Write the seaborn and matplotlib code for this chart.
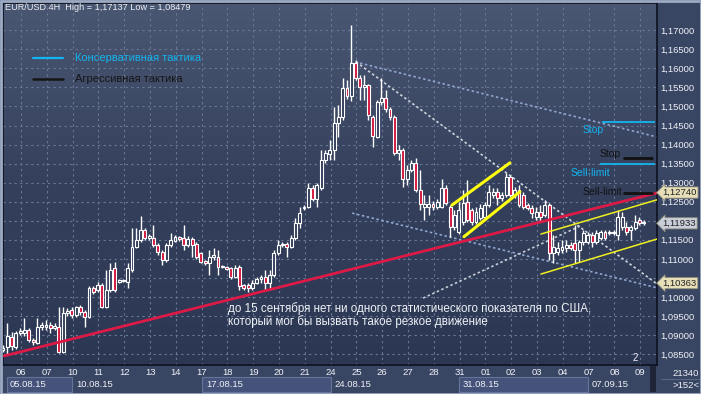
import matplotlib
matplotlib.use("Agg")
import numpy as np
import pandas as pd
import matplotlib.pyplot as plt
import seaborn as sns
from matplotlib.patches import Rectangle
from matplotlib.colors import LinearSegmentedColormap
import matplotlib.transforms as mtrans

# ---------------- data (EUR/USD 4H candles) ----------------
opens = [1.0861,1.0869,1.0895,1.0869,1.0905,1.0905,1.0913,1.0887,1.0879,1.0921,
         1.0921,1.0926,1.0918,1.0921,1.0856,1.0958,1.0966,1.0953,1.0974,1.0960,
         1.0947,1.1024,1.1018,1.1032,1.0974,1.1018,1.1076,1.1040,1.1042,1.1040,
         1.1071,1.1131,1.1150,1.1176,1.1155,1.1155,1.1136,1.1118,1.1097,1.1136,
         1.1147,1.1157,1.1155,1.1136,1.1152,1.1139,1.1115,1.1094,1.1089,1.1105,
         1.1105,1.1079,1.1079,1.1076,1.1053,1.1079,1.1032,1.1032,1.1024,1.1037,
         1.1048,1.1053,1.1037,1.1058,1.1115,1.1136,1.1139,1.1131,1.1155,1.1194,
         1.1234,1.1236,1.1286,1.1257,1.1286,1.1360,1.1375,1.1386,1.1457,1.1472,
         1.1548,1.1527,1.1614,1.1575,1.1551,1.1556,1.1472,1.1420,1.1512,1.1522,
         1.1493,1.1472,1.1378,1.1386,1.1310,1.1333,1.1352,1.1281,1.1236,1.1236,
         1.1244,1.1236,1.1236,1.1286,1.1236,1.1184,1.1171,1.1197,1.1249,1.1228,
         1.1197,1.1207,1.1210,1.1241,1.1268,1.1276,1.1260,1.1268,1.1315,1.1268,
         1.1281,1.1268,1.1241,1.1234,1.1210,1.1223,1.1215,1.1241,1.1115,1.1118,
         1.1123,1.1129,1.1136,1.1142,1.1123,1.1144,1.1144,1.1163,1.1144,1.1155,
         1.1171,1.1168,1.1171,1.1163,1.1184,1.1184,1.1176,1.1181,1.1202,1.1197]
highs = [1.0874,1.0932,1.0908,1.0910,1.0918,1.0945,1.0918,1.0892,1.0945,1.0934,
         1.0940,1.0934,1.0932,1.0974,1.0974,1.0971,1.0974,1.0976,1.0979,1.0966,
         1.1029,1.1029,1.1040,1.1037,1.1071,1.1089,1.1092,1.1048,1.1048,1.1089,
         1.1181,1.1181,1.1212,1.1181,1.1165,1.1189,1.1141,1.1123,1.1141,1.1168,
         1.1163,1.1160,1.1189,1.1160,1.1157,1.1144,1.1118,1.1097,1.1123,1.1129,
         1.1123,1.1084,1.1081,1.1079,1.1084,1.1084,1.1034,1.1037,1.1045,1.1053,
         1.1058,1.1071,1.1071,1.1123,1.1150,1.1144,1.1144,1.1163,1.1207,1.1236,
         1.1241,1.1299,1.1294,1.1299,1.1386,1.1386,1.1412,1.1499,1.1504,1.1575,
         1.1570,1.1714,1.1622,1.1583,1.1583,1.1560,1.1478,1.1517,1.1575,1.1543,
         1.1499,1.1478,1.1399,1.1391,1.1346,1.1360,1.1365,1.1333,1.1268,1.1268,
         1.1252,1.1257,1.1310,1.1294,1.1241,1.1228,1.1249,1.1281,1.1307,1.1234,
         1.1236,1.1244,1.1249,1.1294,1.1286,1.1286,1.1276,1.1325,1.1320,1.1289,
         1.1294,1.1276,1.1247,1.1241,1.1236,1.1241,1.1255,1.1247,1.1163,1.1144,
         1.1150,1.1150,1.1144,1.1189,1.1150,1.1176,1.1171,1.1171,1.1176,1.1176,
         1.1176,1.1176,1.1176,1.1228,1.1223,1.1197,1.1189,1.1215,1.1210,1.1202]
lows =  [1.0856,1.0848,1.0861,1.0864,1.0900,1.0898,1.0882,1.0874,1.0877,1.0913,
         1.0913,1.0905,1.0913,1.0853,1.0853,1.0950,1.0945,1.0947,1.0953,1.0921,
         1.0945,1.1008,1.1013,1.0971,1.0971,1.1013,1.1013,1.1037,1.1040,1.1024,
         1.1066,1.1129,1.1144,1.1150,1.1150,1.1131,1.1110,1.1084,1.1092,1.1131,
         1.1144,1.1147,1.1123,1.1131,1.1105,1.1100,1.1089,1.1084,1.1058,1.1097,
         1.1058,1.1076,1.1071,1.1048,1.1050,1.1018,1.1018,1.1013,1.1018,1.1034,
         1.1037,1.1018,1.1018,1.1053,1.1110,1.1131,1.1105,1.1129,1.1150,1.1181,
         1.1228,1.1234,1.1252,1.1236,1.1281,1.1352,1.1360,1.1360,1.1420,1.1465,
         1.1520,1.1514,1.1570,1.1517,1.1517,1.1465,1.1394,1.1418,1.1504,1.1486,
         1.1465,1.1373,1.1360,1.1289,1.1294,1.1328,1.1276,1.1228,1.1202,1.1215,
         1.1228,1.1231,1.1234,1.1241,1.1157,1.1176,1.1165,1.1189,1.1197,1.1189,
         1.1192,1.1202,1.1205,1.1236,1.1260,1.1241,1.1252,1.1263,1.1263,1.1260,
         1.1236,1.1231,1.1228,1.1207,1.1202,1.1197,1.1210,1.1097,1.1089,1.1110,
         1.1115,1.1118,1.1123,1.1089,1.1092,1.1136,1.1139,1.1131,1.1139,1.1150,
         1.1150,1.1163,1.1163,1.1150,1.1176,1.1163,1.1150,1.1176,1.1189,1.1189]
closes = [1.0866,1.0898,1.0872,1.0905,1.0910,1.0913,1.0887,1.0882,1.0921,1.0926,
          1.0926,1.0918,1.0923,1.0856,1.0958,1.0963,1.0953,1.0974,1.0960,1.0947,
          1.1024,1.1013,1.1032,1.0974,1.1018,1.1071,1.1018,1.1045,1.1045,1.1076,
          1.1131,1.1150,1.1176,1.1155,1.1160,1.1136,1.1118,1.1097,1.1136,1.1150,
          1.1157,1.1152,1.1136,1.1152,1.1136,1.1105,1.1092,1.1089,1.1105,1.1110,
          1.1079,1.1081,1.1074,1.1053,1.1076,1.1029,1.1024,1.1024,1.1037,1.1048,
          1.1053,1.1037,1.1058,1.1115,1.1136,1.1139,1.1131,1.1155,1.1194,1.1220,
          1.1236,1.1286,1.1257,1.1294,1.1360,1.1378,1.1386,1.1457,1.1472,1.1548,
          1.1527,1.1614,1.1575,1.1551,1.1556,1.1478,1.1423,1.1512,1.1522,1.1493,
          1.1472,1.1378,1.1386,1.1310,1.1333,1.1352,1.1281,1.1244,1.1244,1.1244,
          1.1236,1.1249,1.1286,1.1247,1.1184,1.1215,1.1228,1.1247,1.1202,1.1197,
          1.1223,1.1234,1.1241,1.1276,1.1276,1.1260,1.1268,1.1315,1.1268,1.1281,
          1.1241,1.1236,1.1234,1.1220,1.1223,1.1210,1.1241,1.1115,1.1131,1.1129,
          1.1131,1.1136,1.1129,1.1123,1.1144,1.1168,1.1163,1.1144,1.1168,1.1171,
          1.1155,1.1171,1.1168,1.1210,1.1210,1.1171,1.1184,1.1197,1.1194,1.1193]

day_labels = ['06','07','10','11','12','13','14','17','18','19','20','21','24',
              '25','26','27','28','31','01','02','03','04','07','08','09']
week_labels = ['05.08.15','10.08.15','17.08.15','24.08.15','31.08.15','07.09.15']
price_ticks = [1.085,1.090,1.095,1.100,1.105,1.110,1.115,1.120,1.125,1.130,
               1.135,1.140,1.145,1.150,1.155,1.160,1.165,1.170]
price_tags = [1.12740, 1.11933, 1.10363]
header = "EUR/USD 4H  High = 1,17137 Low = 1,08479"
legend_texts = ["Консервативная тактика", "Агрессивная тактика"]
note_lines = ["до 15 сентября нет ни одного статистического показателя по США,",
              "который мог бы вызвать такое резкое движение"]

# ---------------- style ----------------
sns.set_theme(style="dark")
plt.rcParams['font.family'] = ['Liberation Sans', 'DejaVu Sans']

BG_TOP = '#4a5772'
BG_BOT = '#2c3753'
GRID = '#6a7896'
TXT = '#eef1f6'
UP_FACE = '#313d5a'
DOWN_FACE = '#d5163e'
BLUE = '#14b4f0'

W, H = 701, 394
fig = plt.figure(figsize=(W/100, H/100), dpi=100)
fig.patch.set_facecolor('#394663')

ax = fig.add_axes([3/W, 29/H, 654/W, 362/H])
ax.set_facecolor(BG_BOT)

grad = np.linspace(0, 1, 256).reshape(-1, 1)
cmap = LinearSegmentedColormap.from_list('bg', [BG_BOT, '#34405c', BG_TOP])
ax.imshow(grad, extent=[0, 1, 0, 1], transform=ax.transAxes, cmap=cmap,
          aspect='auto', origin='lower', zorder=0)

df = pd.DataFrame({'o': opens, 'h': highs, 'l': lows, 'c': closes})
df['i'] = np.arange(len(df))
df['up'] = df['c'] >= df['o']

ax.set_xlim(0, 152.1)
ax.set_ylim(1.08213, 1.17716)

day_pos = [4.2 + 6*d for d in range(len(day_labels))]
for p in price_ticks:
    ax.axhline(p, color=GRID, lw=0.8, ls=(0, (2, 3)), zorder=1)
for x in day_pos:
    ax.axvline(x, color=GRID, lw=0.8, ls=(0, (2, 3)), zorder=1)

# candles
ax.vlines(df['i'], df['l'], df['h'], color='white', lw=1.0, zorder=3)
body_h = (df['c'] - df['o']).abs().clip(lower=0.00009)
body_b = df[['o', 'c']].min(axis=1)
ax.bar(df['i'], body_h, bottom=body_b, width=0.68,
       color=np.where(df['up'], UP_FACE, DOWN_FACE),
       edgecolor='white', linewidth=0.8, zorder=4)

# trend lines
sns.lineplot(x=[0.23, 152.1], y=[1.0845, 1.1273], ax=ax, color='#dc1a46',
             lw=2.0, zorder=5)
ax.plot([81.9, 152.1], [1.1617, 1.1420], color='#8fa6cf', lw=1.2,
        ls=(0, (1.5, 1.5)), zorder=2)
ax.plot([82.1, 152.1], [1.1617, 1.1034], color='#d0d4de', lw=1.2,
        ls=(0, (1.5, 1.5)), zorder=2)
ax.plot([81.2, 152.1], [1.1220, 1.1024], color='#8fa6cf', lw=1.2,
        ls=(0, (1.5, 1.5)), zorder=2)
ax.plot([97.7, 134.2], [1.0997, 1.1186], color='#c8ccd8', lw=1.2,
        ls=(0, (1.5, 1.5)), zorder=2)
ax.plot([104.4, 117.9], [1.1241, 1.1352], color='#ffff10', lw=2.2, zorder=6)
ax.plot([107.2, 120.2], [1.1158, 1.1276], color='#ffff10', lw=2.2, zorder=6)
ax.plot([125.1, 152.1], [1.1165, 1.1255], color='#f0f020', lw=1.1, zorder=6)
ax.plot([125.1, 152.1], [1.1060, 1.1152], color='#f0f020', lw=1.1, zorder=6)

# order levels
ax.hlines(1.1459, 139.3, 151.6, color=BLUE, lw=1.3, zorder=6)
ax.hlines(1.1349, 138.8, 151.6, color=BLUE, lw=1.3, zorder=6)
ax.hlines(1.1365, 144.2, 151.2, color='#111111', lw=2.0, zorder=6)
ax.hlines(1.1273, 144.2, 151.2, color='#111111', lw=2.0, zorder=6)
ax.text(134.9, 1.1438, "Stop", color=BLUE, fontsize=7.5, va='center', ha='left', zorder=7)
ax.text(138.8, 1.1375, "Stop", color='#111111', fontsize=7.5, va='center', ha='left', zorder=7)
ax.text(131.9, 1.1325, "Sell-limit", color=BLUE, fontsize=7.5, va='center', ha='left', zorder=7)
ax.text(134.9, 1.1276, "Sell-limit", color='#111111', fontsize=7.5, va='center', ha='left', zorder=7)

# legend
ax.plot([0.046, 0.092], [0.848, 0.848], transform=ax.transAxes, color=BLUE, lw=1.6, zorder=7)
ax.plot([0.046, 0.092], [0.790, 0.790], transform=ax.transAxes, color='#151515', lw=1.8, zorder=7)
ax.text(0.110, 0.848, legend_texts[0], transform=ax.transAxes, color=BLUE,
        fontsize=8, va='center', ha='left', zorder=7)
ax.text(0.110, 0.790, legend_texts[1], transform=ax.transAxes, color='#151515',
        fontsize=8, va='center', ha='left', zorder=7)

# note
ax.text(0.344, 0.157, note_lines[0], transform=ax.transAxes, color=TXT,
        fontsize=8.4, va='center', ha='left', zorder=7)
ax.text(0.344, 0.119, note_lines[1], transform=ax.transAxes, color=TXT,
        fontsize=8.4, va='center', ha='left', zorder=7)
ax.text(0.963, 0.019, "2", transform=ax.transAxes, color=TXT, fontsize=7,
        va='center', ha='left', zorder=7)

fig.text(5/W, 1 - 8/H, header, color=TXT, fontsize=6.6, va='center', ha='left')

# axes ticks (labels under the price tags are hidden, as in the terminal)
hidden = {1.120, 1.105}
ax.yaxis.tick_right()
ax.set_yticks(price_ticks)
ax.set_yticklabels(["" if round(p, 3) in hidden else f"{p:.5f}".replace('.', ',')
                    for p in price_ticks])
ax.set_xticks(day_pos)
ax.set_xticklabels(day_labels)
ax.tick_params(axis='both', length=0, colors=TXT, labelsize=6.8)
ax.tick_params(axis='y', pad=2.5)
ax.tick_params(axis='x', pad=2)
for s in ax.spines.values():
    s.set_color('#0d1220')
    s.set_linewidth(1.2)
ax.grid(False)

tag_styles = [('#e6dfb8', '#222222'), ('#c9ced8', '#222222'), ('#e6dfb8', '#222222')]
for p, (fc, tc) in zip(price_tags, tag_styles):
    ax.annotate(f"{p:.5f}".replace('.', ','), xy=(1.0, p),
                xycoords=('axes fraction', 'data'), xytext=(4.0, 0),
                textcoords='offset points', va='center', ha='left',
                fontsize=6.8, color=tc, annotation_clip=False, zorder=10,
                bbox=dict(boxstyle='larrow,pad=0.12', fc=fc, ec='#8a8a7a', lw=0.6))

# week row
blend = mtrans.blended_transform_factory(ax.transData, ax.transAxes)
week_pos = [1.6, 17.0, 47.2, 77.0, 107.0, 137.0]
box_spans = [(0.93, 16.0), (46.3, 76.3), (106.1, 136.1)]
for a, b in box_spans:
    ax.add_patch(Rectangle((a, -0.075), b - a, 0.042, transform=blend,
                           fc='#45527a', ec='#65749a', lw=0.8, clip_on=False, zorder=1))
for x, t in zip(week_pos, week_labels):
    ax.text(x, -0.054, t, transform=blend, color=TXT, fontsize=6.8,
            va='center', ha='left', clip_on=False)

fig.text(686/W, 1 - 373/H, "21340", color=TXT, fontsize=6.8, va='center', ha='center')
fig.text(686/W, 1 - 385/H, ">152<", color=TXT, fontsize=6.8, va='center', ha='center')
fig.add_artist(plt.Line2D([661/W, 699/W], [1 - 379/H, 1 - 379/H], color='#5a6886', lw=0.8))
fig.add_artist(Rectangle((650/W, 1 - 392/H), 6/W, 26/H, fc='#1e2538', ec='none'))

fig.add_artist(Rectangle((0.5/W, 0.5/H), 1 - 1/W, 1 - 1/H, fill=False,
                         ec='#9eabc4', lw=2.0))

fig.savefig("out.png", dpi=100, facecolor=fig.get_facecolor())
